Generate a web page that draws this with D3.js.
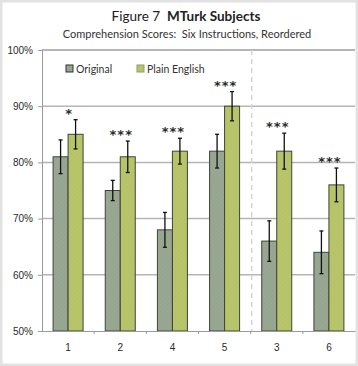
<!DOCTYPE html>
<html>
<head>
<meta charset="utf-8">
<script src="https://cdn.jsdelivr.net/npm/d3@7"></script>
<style>
  body { margin: 0; background: #fff; }
  #container { width: 358px; height: 366px; }
</style>
</head>
<body>
<div id="container"></div>
<script>
let w = 358,
    h = 366;

// data
let categories = ['1', '2', '4', '5', '3', '6'];
let series = ['Original', 'Plain English'];
let original = [81, 75, 68, 82, 66, 64];
let plain = [85, 81, 82, 90, 82, 76];
let originalErr = [3, 1.8, 3.1, 3, 3.6, 3.8];
let plainErr = [2.6, 2.8, 2.3, 2.6, 3.2, 3];
let stars = ['*', '***', '***', '***', '***', '***'];
let yTicks = [50, 60, 70, 80, 90, 100];

let viz = d3.select('#container')
    .append('svg')
      .attr('width', w)
      .attr('height', h)
      .style('font-family', 'Lato, "Open Sans", sans-serif');

// outer frame
viz.append('rect')
    .attr('x', 1).attr('y', 1)
    .attr('width', w - 2).attr('height', h - 2)
    .attr('fill', 'white')
    .attr('stroke', '#e2e2e2')
    .attr('stroke-width', 3);

let pLeft = 42, pRight = 355, pTop = 50, pBottom = 331;

let x = d3.scaleBand()
    .domain(categories)
    .range([pLeft, pRight]);

let xs = d3.scaleBand()
    .domain(series)
    .range([0, 30])
    .paddingInner(0);

let y = d3.scaleLinear()
    .domain([50, 100])
    .range([pBottom, pTop]);

let defs = viz.append('defs');
function hatch(id, base, line) {
    let p = defs.append('pattern')
        .attr('id', id)
        .attr('patternUnits', 'userSpaceOnUse')
        .attr('width', 3).attr('height', 3)
        .attr('patternTransform', 'rotate(45)');
    p.append('rect').attr('width', 3).attr('height', 3).attr('fill', base);
    p.append('line')
        .attr('x1', 0).attr('y1', 0).attr('x2', 0).attr('y2', 3)
        .attr('stroke', line).attr('stroke-width', 1);
}
hatch('hOrig', '#99a893', '#919f8a');
hatch('hPlain', '#b8c56b', '#b0bd62');
let fills = {'Original': 'url(#hOrig)', 'Plain English': 'url(#hPlain)'};

// gridlines
viz.append('g')
    .selectAll('line')
    .data(yTicks.slice(1))
    .enter().append('line')
      .attr('x1', pLeft).attr('x2', pRight)
      .attr('y1', d => y(d)).attr('y2', d => y(d))
      .attr('stroke', '#b5b5b5')
      .attr('stroke-width', d => d === 100 ? 2 : 1.5);

// dashed separator between 5 and 3
viz.append('line')
    .attr('x1', x('3') + 1).attr('x2', x('3') + 1)
    .attr('y1', pTop).attr('y2', pBottom)
    .attr('stroke', '#d4d4d4')
    .attr('stroke-width', 1.5)
    .style('stroke-dasharray', '5,4');

// y axis
let yAxis = viz.append('g')
    .attr('transform', 'translate(' + pLeft + ',0)')
    .call(d3.axisLeft(y).tickValues(yTicks).tickSize(4).tickFormat(d => d + '%'));
yAxis.select('.domain').attr('stroke', '#9a9a9a');
yAxis.selectAll('.tick line').attr('stroke', '#9a9a9a');
yAxis.selectAll('text')
    .attr('font-size', 10)
    .attr('fill', '#2a2a2a')
    .attr('x', -9);

// bars
let rows = categories.map((c, i) => [
    {cat: c, s: 'Original', v: original[i], e: originalErr[i]},
    {cat: c, s: 'Plain English', v: plain[i], e: plainErr[i]}
]);
let groups = viz.append('g')
    .selectAll('g')
    .data(rows)
    .enter().append('g')
      .attr('transform', d => 'translate(' + (x(d[0].cat) + x.bandwidth() / 2 - 15) + ',0)');

groups.selectAll('rect')
    .data(d => d)
    .enter().append('rect')
      .attr('x', d => xs(d.s))
      .attr('width', xs.bandwidth())
      .attr('y', d => y(d.v))
      .attr('height', d => y(50) - y(d.v))
      .attr('fill', d => fills[d.s])
      .attr('stroke', '#3e4438')
      .attr('stroke-width', 1);

// error bars
let err = groups.selectAll('.err')
    .data(d => d)
    .enter().append('g')
      .attr('class', 'err')
      .attr('stroke', '#111')
      .attr('stroke-width', 1.3);
err.append('line')
    .attr('x1', d => xs(d.s) + xs.bandwidth() / 2)
    .attr('x2', d => xs(d.s) + xs.bandwidth() / 2)
    .attr('y1', d => y(d.v + d.e))
    .attr('y2', d => y(d.v - d.e));
err.append('line')
    .attr('x1', d => xs(d.s) + xs.bandwidth() / 2 - 2)
    .attr('x2', d => xs(d.s) + xs.bandwidth() / 2 + 2)
    .attr('y1', d => y(d.v + d.e))
    .attr('y2', d => y(d.v + d.e));
err.append('line')
    .attr('x1', d => xs(d.s) + xs.bandwidth() / 2 - 2)
    .attr('x2', d => xs(d.s) + xs.bandwidth() / 2 + 2)
    .attr('y1', d => y(d.v - d.e))
    .attr('y2', d => y(d.v - d.e));

// significance stars
viz.append('g')
    .selectAll('text')
    .data(categories)
    .enter().append('text')
      .attr('x', d => x(d) + x.bandwidth() / 2 + 1)
      .attr('y', (d, i) => y(Math.max(original[i] + originalErr[i], plain[i] + plainErr[i])) - 2)
      .attr('text-anchor', 'middle')
      .attr('font-family', '"DejaVu Sans", sans-serif')
      .attr('font-size', 13)
      .attr('font-weight', 'bold')
      .attr('fill', '#2a2a2a')
      .attr('letter-spacing', 1)
      .text((d, i) => stars[i]);

// x axis
let xAxis = viz.append('g')
    .attr('transform', 'translate(0,' + pBottom + ')')
    .call(d3.axisBottom(x).tickSize(0).tickPadding(13));
xAxis.select('.domain').attr('stroke', '#9a9a9a');
xAxis.selectAll('text').attr('font-size', 10).attr('fill', '#2a2a2a');
viz.append('g')
    .selectAll('line')
    .data(categories.slice(1))
    .enter().append('line')
      .attr('x1', d => x(d)).attr('x2', d => x(d))
      .attr('y1', pBottom).attr('y2', pBottom + 3)
      .attr('stroke', '#9a9a9a');

// legend
let legend = viz.append('g')
    .selectAll('g')
    .data(series)
    .enter().append('g')
      .attr('transform', (d, i) => 'translate(' + (i === 0 ? 66 : 137) + ',69)');
legend.append('rect')
    .attr('x', 0).attr('y', -4)
    .attr('width', 7).attr('height', 7)
    .attr('fill', d => fills[d])
    .attr('stroke', (d, i) => i === 0 ? '#333' : '#8f9a6a');
legend.append('text')
    .attr('x', 10).attr('y', 3.5)
    .attr('font-size', 10.5)
    .attr('fill', '#333')
    .text(d => d);

// titles
let title = viz.append('text')
    .attr('x', 186).attr('y', 21)
    .attr('text-anchor', 'middle')
    .attr('font-size', 13.5)
    .attr('fill', '#222')
    .style('white-space', 'pre');
title.append('tspan').text('Figure 7  ');
title.append('tspan').attr('font-weight', 'bold').text('MTurk Subjects');

viz.append('text')
    .attr('x', 187).attr('y', 38)
    .attr('text-anchor', 'middle')
    .attr('font-size', 11)
    .attr('fill', '#333')
    .style('white-space', 'pre')
    .text('Comprehension Scores:  Six Instructions, Reordered');
</script>
</body>
</html>
